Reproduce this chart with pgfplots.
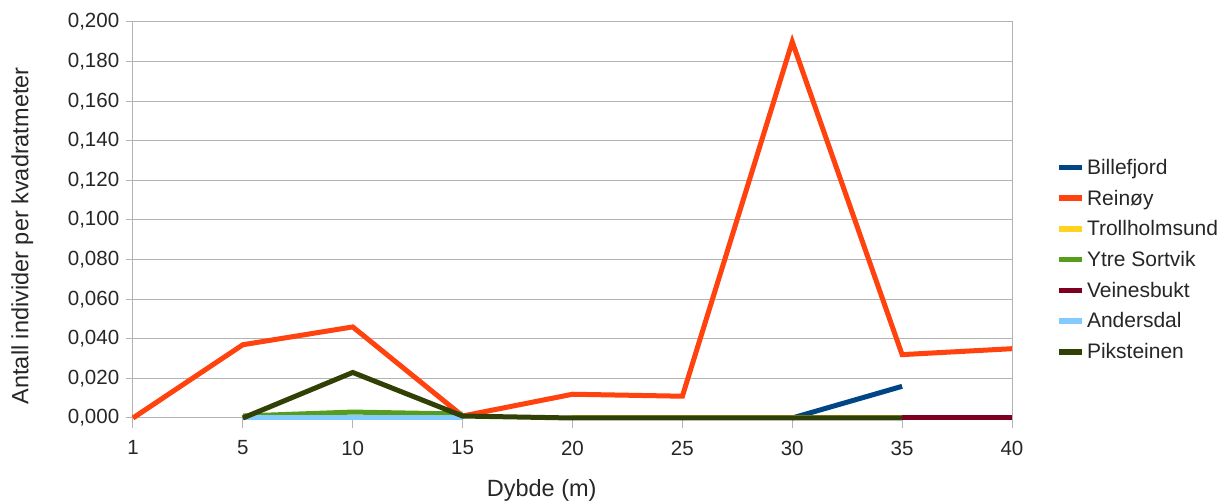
\documentclass[border=0pt]{standalone}
\usepackage{pgfplots}
\pgfplotsset{compat=1.18}
\usepackage{fontspec}
\setmainfont{Liberation Sans}
\definecolor{cBille}{HTML}{004586}
\definecolor{cRein}{HTML}{FF420E}
\definecolor{cTroll}{HTML}{FFD320}
\definecolor{cYtre}{HTML}{579D1C}
\definecolor{cVeine}{HTML}{7E0021}
\definecolor{cAnders}{HTML}{83CAFF}
\definecolor{cPik}{HTML}{314004}
\definecolor{gridgray}{HTML}{B3B3B3}
\begin{document}
\begin{tikzpicture}
\begin{axis}[
  scale only axis,
  width=879pt, height=396pt,
  xmin=0, xmax=8, ymin=0, ymax=0.2,
  xtick={0,1,2,3,4,5,6,7,8},
  xticklabels={1,5,10,15,20,25,30,35,40},
  ytick={0,0.02,0.04,0.06,0.08,0.1,0.12,0.14,0.16,0.18,0.2},
  xtick pos=bottom, ytick pos=left,
  scaled y ticks=false,
  yticklabel style={xshift=-6pt, /pgf/number format/.cd, fixed, fixed zerofill, precision=3, use comma, assume math mode=true},
  tick label style={font=\fontsize{20.5}{20.5}\selectfont, text=black!85},
  xticklabel style={yshift=-15pt},
  tick align=outside,
  xtick style={gridgray, line width=1pt, /pgfplots/major tick length=10pt},
  ytick style={gridgray, line width=1pt, /pgfplots/major tick length=7pt},
  axis line style={gridgray, line width=1pt},
  ymajorgrids, major grid style={gridgray, line width=1pt},
  xlabel={Dybde (m)},
  ylabel={Antall individer per kvadratmeter},
  label style={font=\fontsize{23.5}{23.5}\selectfont, text=black!85},
  xlabel style={at={(axis description cs:0.465,-0.182)}, anchor=center},
  ylabel style={at={(axis description cs:-0.126,0.46)}, anchor=center},
  legend style={at={(1.047,0.40)}, anchor=west, draw=none, fill=none,
    font=\fontsize{21}{21}\selectfont, row sep=10pt, text=black!85,
    /tikz/every even column/.append style={column sep=3pt}},
  legend cell align=left,
  legend image code/.code={\draw[line width=5.5pt] (0pt,0pt) -- (23pt,0pt);},
  every axis plot/.append style={line width=5pt, line join=miter},
  clip=false,
]
\coordinate (o) at (rel axis cs:0,0);
% Billefjord
\addplot[cBille] coordinates {(6,0) (7,0.016)};
% Reinøy
\addplot[cRein] coordinates {(0,0) (1,0.037) (2,0.046) (3,0.001) (4,0.012) (5,0.011) (6,0.190) (7,0.032) (8,0.035)};
% Trollholmsund
\addplot[cTroll] coordinates {(4,0) (5,0) (6,0) (7,0)};
% Ytre Sortvik
\addplot[cYtre] coordinates {(1,0.001) (2,0.003) (3,0.002)};
% Veinesbukt
\addplot[cVeine] coordinates {(7,0) (8,0)};
% Andersdal
\addplot[cAnders] coordinates {(1,0.0005) (2,0.0005) (3,0.0005)};
% Piksteinen
\addplot[cPik] coordinates {(1,0) (2,0.023) (3,0.001) (4,0) (5,0) (6,0) (7,0)};
\legend{Billefjord,Reinøy,Trollholmsund,Ytre Sortvik,Veinesbukt,Andersdal,Piksteinen}
\end{axis}
\pgfresetboundingbox
\path[use as bounding box] (o) ++(-133pt,-85pt) rectangle ++(1229pt,503pt);
\end{tikzpicture}
\end{document}
